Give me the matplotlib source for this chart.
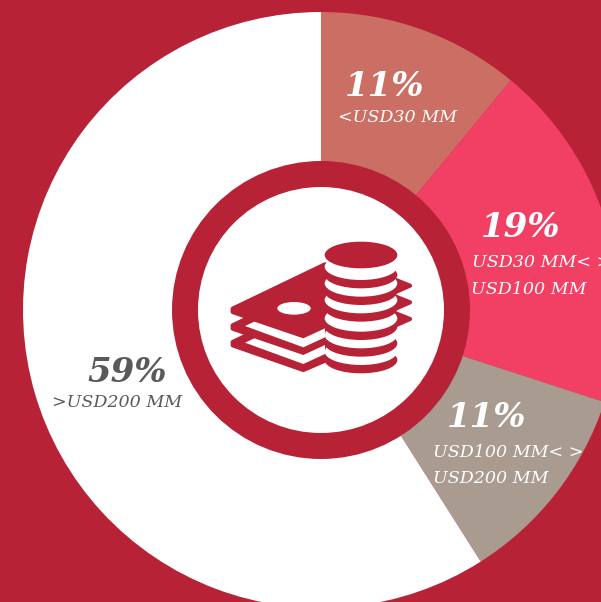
import matplotlib
matplotlib.use('Agg')
import matplotlib.pyplot as plt
from matplotlib.patches import Circle, Ellipse, Polygon

# revenue bands, clockwise from twelve o'clock
shares = [11, 19, 11, 59]
percent_labels = ['11%', '19%', '11%', '59%']
band_labels = [['<USD30 MM'],
               ['USD30 MM< >', 'USD100 MM'],
               ['USD100 MM< >', 'USD200 MM'],
               ['>USD200 MM']]
slice_colors = ['#CB6E63', '#F24065', '#A99B8F', '#FFFFFF']
text_colors = ['white', 'white', 'white', '#58595B']

RED = '#B82236'
W, H = 601, 602
CX, CY = 321, 310

# where each label block starts: percent x/baseline, then band x/baseline per line
percent_pos = [(345, 96), (481, 237), (447, 427), (87, 382)]
band_pos = [[(338, 122)],
            [(472, 267), (471, 294)],
            [(433, 457), (433, 483)],
            [(52, 407)]]

fig = plt.figure(figsize=(W / 100, H / 100), dpi=100, facecolor=RED)
ax = fig.add_axes([0, 0, 1, 1])


# y measured from the top edge of the figure
def fy(y):
    return H - y


ax.pie(shares, colors=slice_colors, startangle=90, counterclock=False,
       center=(CX, fy(CY)), radius=298, frame=False)
ax.set_xlim(0, W)
ax.set_ylim(0, H)
ax.set_aspect('equal')
ax.axis('off')

# centre ring
ax.add_patch(Circle((CX, fy(CY)), 149, color=RED, lw=0, zorder=3))
ax.add_patch(Circle((CX, fy(CY)), 123, color='white', lw=0, zorder=4))


# icon outlines are sketched on a 3x grid offset from the icon corner
def ip(x, y):
    return (210 + x / 3, fy(220 + y / 3))


def poly(points, color, z, lw=0.0):
    ax.add_patch(Polygon([ip(*p) for p in points], closed=True, fc=color, ec=color,
                         lw=lw, joinstyle='round', zorder=z))


# banknotes, lowest first
for dy in [100, 50, 0]:
    poly([(345, 133 + dy), (68, 266 + dy), (68, 276 + dy), (280, 350 + dy), (345, 322 + dy)],
         RED, 5, lw=3)
    if dy > 0:
        poly([(105, 268 + dy), (133, 255 + dy), (280, 305 + dy), (345, 275 + dy),
              (345, 302 + dy), (280, 332 + dy)], 'white', 5.5)
for tip_y in [197, 247, 297]:
    poly([(550, tip_y - 20), (600, tip_y), (550, tip_y + 22)], RED, 5, lw=3)
ax.add_patch(Ellipse(ip(252, 265), 100 / 3, 38 / 3, color='white', lw=0, zorder=6))

# coin stack, bottom coin first
coin_w = 218 / 3
coin_h = 80 / 3
for c in [395, 345, 295, 240, 190, 140]:
    ax.add_patch(Ellipse(ip(453, c + 25), coin_w, coin_h, color=RED, lw=0, zorder=7))
    ax.add_patch(Ellipse(ip(453, c), coin_w, coin_h, color='white', lw=0, zorder=7))
ax.add_patch(Ellipse(ip(453, 105), coin_w, coin_h, color=RED, lw=0, zorder=7))

# labels
for i in range(len(shares)):
    x, y = percent_pos[i]
    ax.text(x, fy(y), percent_labels[i], family='DejaVu Serif', style='italic',
            weight='bold', fontsize=24.5, color=text_colors[i], va='baseline', ha='left', zorder=8)
    for line, (bx, by) in zip(band_labels[i], band_pos[i]):
        ax.text(bx, fy(by), line, family='DejaVu Serif', style='italic',
                fontsize=12.6, color=text_colors[i], va='baseline', ha='left', zorder=8)

fig.savefig('out.png', dpi=100, facecolor=RED)
